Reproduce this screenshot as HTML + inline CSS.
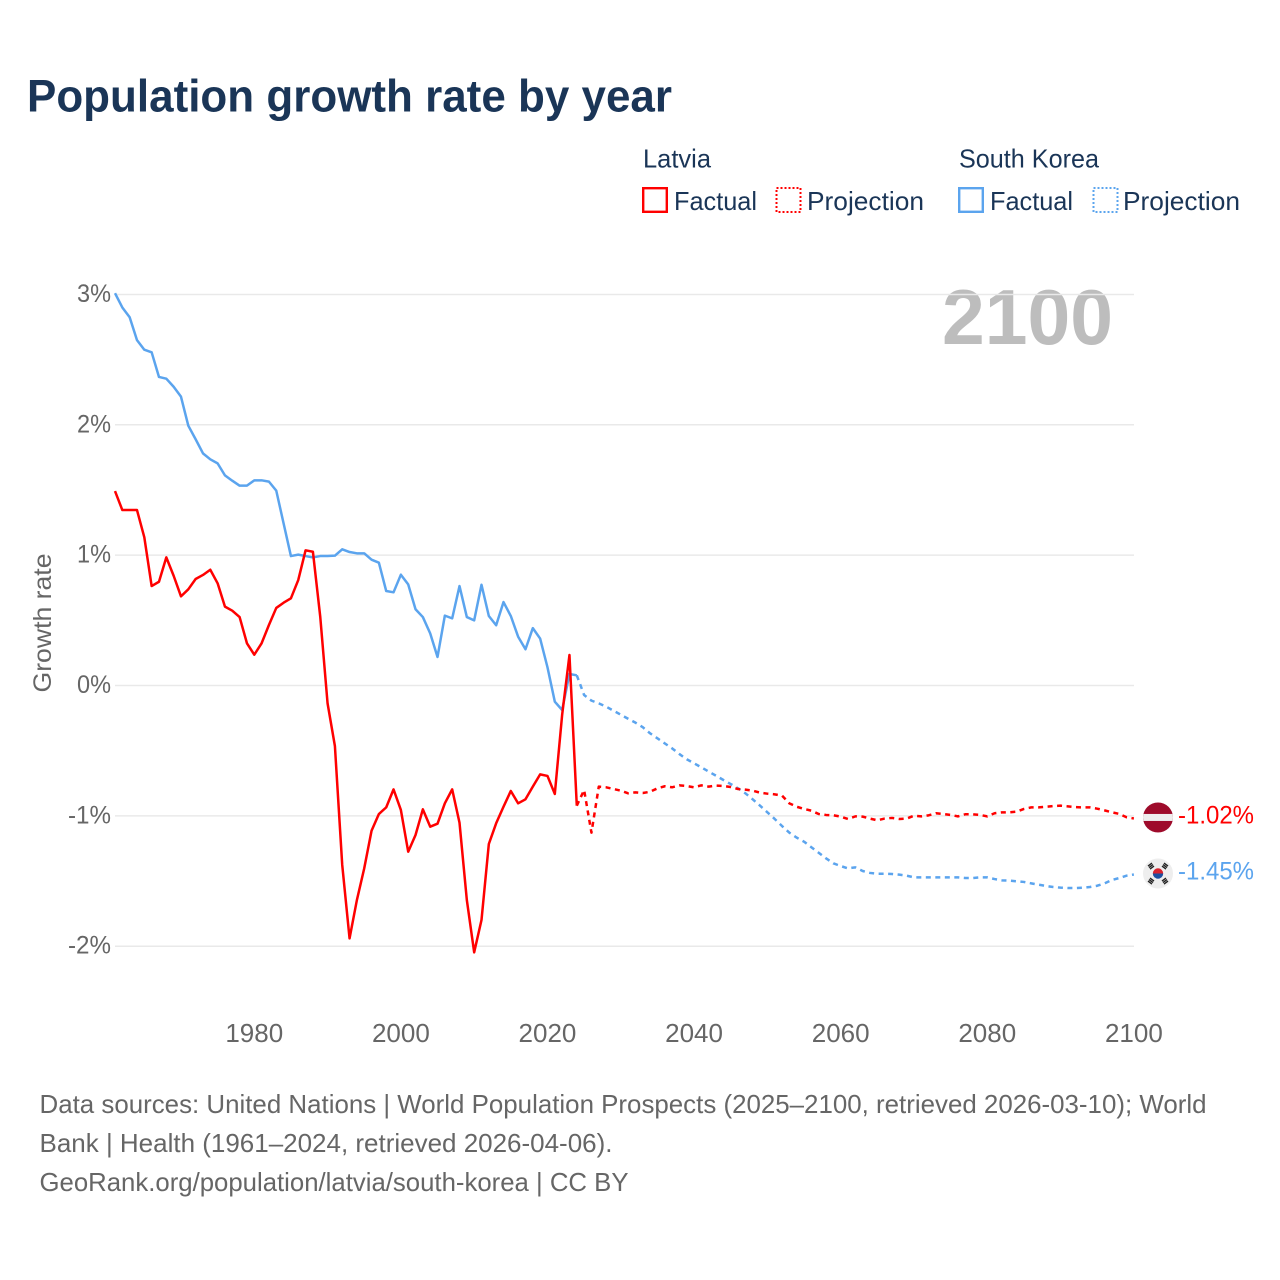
<!DOCTYPE html>
<html lang="en">
<head>
<meta charset="utf-8">
<title>Population growth rate by year</title>
<style>
html,body{margin:0;padding:0;background:#fff}
svg{display:block}
text{font-family:"Liberation Sans",sans-serif}
</style>
</head>
<body>
<svg id="chart" xmlns="http://www.w3.org/2000/svg" width="1280" height="1280" viewBox="0 0 1280 1280">
  <rect x="0" y="0" width="1280" height="1280" fill="#ffffff"/>
  <text x="27" y="111.5" font-size="45" font-weight="700" fill="#1a3557" textLength="645" lengthAdjust="spacingAndGlyphs">Population growth rate by year</text>

  <g font-size="26" fill="#1a3557">
    <text x="643" y="167.5" textLength="68" lengthAdjust="spacingAndGlyphs">Latvia</text>
    <text x="959" y="167.5" textLength="140" lengthAdjust="spacingAndGlyphs">South Korea</text>
    <g>
      <rect x="643.2" y="188.2" width="23.6" height="23.6" fill="none" stroke="#ff0000" stroke-width="2.4"/>
      <text x="674" y="210" textLength="83" lengthAdjust="spacingAndGlyphs">Factual</text>
    </g>
    <g>
      <rect x="776.5" y="188" width="24" height="24" fill="none" stroke="#ff0000" stroke-width="2" stroke-dasharray="2 2"/>
      <text x="807" y="210" textLength="117" lengthAdjust="spacingAndGlyphs">Projection</text>
    </g>
    <g>
      <rect x="959.2" y="188.2" width="23.6" height="23.6" fill="none" stroke="#5ba4ee" stroke-width="2.4"/>
      <text x="990" y="210" textLength="83" lengthAdjust="spacingAndGlyphs">Factual</text>
    </g>
    <g>
      <rect x="1093.5" y="188" width="24" height="24" fill="none" stroke="#5ba4ee" stroke-width="2" stroke-dasharray="2 2"/>
      <text x="1123" y="210" textLength="117" lengthAdjust="spacingAndGlyphs">Projection</text>
    </g>
  </g>

  <text x="1113" y="344" text-anchor="end" font-size="78" font-weight="700" fill="#bdbdbd" textLength="171" lengthAdjust="spacingAndGlyphs">2100</text>
  <text transform="translate(51 623) rotate(-90)" text-anchor="middle" font-size="25" fill="#666666" textLength="139" lengthAdjust="spacingAndGlyphs">Growth rate</text>

  <g id="grid"></g>
  <g id="y-ticks" font-size="25" fill="#666666"></g>
  <g id="x-ticks" font-size="26" fill="#666666"></g>
  <g id="series" fill="none" stroke-width="2.5" stroke-linejoin="round"></g>

  <g id="flag-latvia">
    <clipPath id="clip-lv"><circle cx="0" cy="0" r="15"/></clipPath>
    <g clip-path="url(#clip-lv)">
      <rect x="-15" y="-15" width="30" height="30" fill="#9e0b2b"/>
      <rect x="-15" y="-3.5" width="30" height="7" fill="#eeeeee"/>
    </g>
  </g>
  <g id="flag-korea">
    <circle cx="0" cy="0" r="15" fill="#eeeeee"/>
    <path d="M-5.2 0A5.2 5.2 0 0 1 5.2 0Z" fill="#d8232f"/>
    <path d="M-5.2 0A5.2 5.2 0 0 0 5.2 0Z" fill="#1b4fa0"/>
    <g stroke="#222222" stroke-width="1.4" fill="none">
      <path d="M-10 -7.5L-6 -10.5M-9 -6L-5 -9M-8 -4.5L-4 -7.5"/>
      <path d="M6 -10.5L10 -7.5M5 -9L9 -6M4 -7.5L8 -4.5"/>
      <path d="M-10 7.5L-6 10.5M-9 6L-5 9M-8 4.5L-4 7.5"/>
      <path d="M6 10.5L10 7.5M5 9L9 6M4 7.5L8 4.5"/>
    </g>
  </g>
  <text id="value-latvia" x="1178" font-size="25" fill="#ff0000" textLength="76" lengthAdjust="spacingAndGlyphs"></text>
  <text id="value-korea" x="1178" font-size="25" fill="#5ba4ee" textLength="76" lengthAdjust="spacingAndGlyphs"></text>

  <g font-size="26" fill="#666666">
    <text x="39.5" y="1113" textLength="1167" lengthAdjust="spacingAndGlyphs">Data sources: United Nations | World Population Prospects (2025–2100, retrieved 2026-03-10); World</text>
    <text x="39.5" y="1152" textLength="573" lengthAdjust="spacingAndGlyphs">Bank | Health (1961–2024, retrieved 2026-04-06).</text>
    <text x="39.5" y="1191" textLength="589" lengthAdjust="spacingAndGlyphs">GeoRank.org/population/latvia/south-korea | CC BY</text>
  </g>
</svg>
<script>
const firstFactualYear = 1961;
const firstProjectionYear = 2024;
const xTickYears = [1980, 2000, 2020, 2040, 2060, 2080, 2100];
const yTickValues = [3, 2, 1, 0, -1, -2];
const latviaFactual = [
  1.492,1.346,1.346,1.346,1.137,0.763,0.796,0.983,0.842,0.684,
  0.738,0.817,0.848,0.888,0.784,0.605,0.574,0.525,0.324,0.236,
  0.324,0.464,0.595,0.635,0.669,0.809,1.037,1.026,0.528,-0.137,
  -0.464,-1.377,-1.94,-1.646,-1.403,-1.114,-0.986,-0.935,-0.797,-0.955,
  -1.275,-1.147,-0.95,-1.083,-1.06,-0.904,-0.797,-1.053,-1.646,-2.047,
  -1.799,-1.216,-1.057,-0.93,-0.809,-0.904,-0.873,-0.776,-0.682,-0.694,
  -0.832,-0.226,0.234,-0.922
];
const koreaFactual = [
  3.01,2.90,2.825,2.65,2.576,2.556,2.367,2.354,2.292,2.216,
  1.993,1.889,1.781,1.735,1.704,1.612,1.571,1.533,1.533,1.574,
  1.574,1.564,1.495,1.244,0.993,1.004,0.993,0.983,0.993,0.993,
  0.996,1.045,1.024,1.014,1.014,0.965,0.942,0.725,0.715,0.85,
  0.776,0.585,0.525,0.40,0.219,0.536,0.515,0.763,0.525,0.50,
  0.773,0.533,0.462,0.64,0.533,0.374,0.278,0.44,0.36,0.14,
  -0.124,-0.188,0.088,0.078
];
const latviaProjection = [
  -0.922,
  -0.802,-1.129,-0.776,-0.781,-0.794,-0.807,
  -0.827,-0.82,-0.825,-0.815,-0.789,-0.773,-0.781,-0.766,-0.771,-0.781,
  -0.766,-0.776,-0.768,-0.771,-0.779,-0.794,-0.799,-0.807,-0.822,-0.83,
  -0.835,-0.845,-0.904,-0.93,-0.947,-0.96,-0.986,-0.993,-0.996,-1.006,
  -1.024,-1.004,-1.006,-1.021,-1.034,-1.021,-1.016,-1.024,-1.021,-0.999,
  -1.004,-0.996,-0.98,-0.986,-0.993,-1.004,-0.988,-0.988,-0.993,-1.004,
  -0.98,-0.973,-0.973,-0.968,-0.947,-0.935,-0.935,-0.93,-0.925,-0.922,
  -0.927,-0.933,-0.935,-0.935,-0.945,-0.958,-0.973,-0.985,-1.011,-1.02
];
const koreaProjection = [
  0.078,
  -0.073,-0.116,-0.137,-0.162,-0.193,-0.224,
  -0.255,-0.285,-0.32,-0.367,-0.405,-0.444,-0.482,-0.526,-0.566,-0.597,
  -0.628,-0.661,-0.692,-0.725,-0.756,-0.789,-0.827,-0.873,-0.922,-0.973,
  -1.024,-1.078,-1.129,-1.167,-1.198,-1.241,-1.283,-1.326,-1.364,-1.385,
  -1.403,-1.395,-1.423,-1.438,-1.444,-1.444,-1.446,-1.451,-1.459,-1.472,
  -1.472,-1.472,-1.472,-1.472,-1.472,-1.472,-1.477,-1.477,-1.472,-1.472,
  -1.485,-1.495,-1.497,-1.502,-1.507,-1.518,-1.528,-1.538,-1.546,-1.551,
  -1.554,-1.554,-1.551,-1.546,-1.536,-1.518,-1.492,-1.477,-1.459,-1.45
];

const SVG_NS = 'http://www.w3.org/2000/svg';
const RED = '#ff0000';
const BLUE = '#5ba4ee';
const PROJECTION_DASH = '5 4.5';

function xScale(year) {
  return 115 + (year - 1961) * 7.33;
}
function yScale(value) {
  return 685.5 - value * 130.35;
}
function make(tag, parent) {
  const el = document.createElementNS(SVG_NS, tag);
  parent.appendChild(el);
  return el;
}
function linePath(values, startYear) {
  return values.map(function (v, i) {
    return (i ? 'L' : 'M') + xScale(startYear + i).toFixed(2) + ' ' + yScale(v).toFixed(2);
  }).join('');
}
function drawLine(parent, values, startYear, color, dash, name) {
  const path = make('path', parent);
  
  
  path.setAttribute('d', linePath(values, startYear));
  path.setAttribute('stroke', color);
  if (dash) path.setAttribute('stroke-dasharray', dash);
}

const gridGroup = document.getElementById('grid');
const yTickGroup = document.getElementById('y-ticks');
yTickValues.forEach(function (v) {
  const line = make('line', gridGroup);
  
  
  line.setAttribute('x1', 115);
  line.setAttribute('x2', 1134);
  line.setAttribute('y1', yScale(v));
  line.setAttribute('y2', yScale(v));
  line.setAttribute('stroke', '#e9e9e9');
  line.setAttribute('stroke-width', '1.5');
  const label = make('text', yTickGroup);
  
  
  label.setAttribute('x', 111);
  label.setAttribute('y', yScale(v) + 7.5);
  label.setAttribute('text-anchor', 'end');
  label.textContent = v + '%';
  label.setAttribute('textLength', v < 0 ? 43 : 34);
  label.setAttribute('lengthAdjust', 'spacingAndGlyphs');
});

const xTickGroup = document.getElementById('x-ticks');
xTickYears.forEach(function (year) {
  const label = make('text', xTickGroup);
  
  
  label.setAttribute('x', xScale(year));
  label.setAttribute('y', 1042);
  label.setAttribute('text-anchor', 'middle');
  label.textContent = String(year);
});

const seriesGroup = document.getElementById('series');
drawLine(seriesGroup, koreaFactual, firstFactualYear, BLUE, null, 'south-korea-factual-line');
drawLine(seriesGroup, koreaProjection, firstProjectionYear, BLUE, PROJECTION_DASH, 'south-korea-projection-line');
drawLine(seriesGroup, latviaFactual, firstFactualYear, RED, null, 'latvia-factual-line');
drawLine(seriesGroup, latviaProjection, firstProjectionYear, RED, PROJECTION_DASH, 'latvia-projection-line');

const latviaEnd = latviaProjection[latviaProjection.length - 1];
const koreaEnd = koreaProjection[koreaProjection.length - 1];
document.getElementById('flag-latvia').setAttribute('transform', 'translate(1158 ' + (yScale(latviaEnd) - 1) + ')');
document.getElementById('flag-korea').setAttribute('transform', 'translate(1158 ' + (yScale(koreaEnd) - 1) + ')');
const valueLatvia = document.getElementById('value-latvia');
valueLatvia.setAttribute('y', yScale(latviaEnd) + 5);
valueLatvia.textContent = latviaEnd.toFixed(2) + '%';
const valueKorea = document.getElementById('value-korea');
valueKorea.setAttribute('y', yScale(koreaEnd) + 5);
valueKorea.textContent = koreaEnd.toFixed(2) + '%';
</script>
</body>
</html>
